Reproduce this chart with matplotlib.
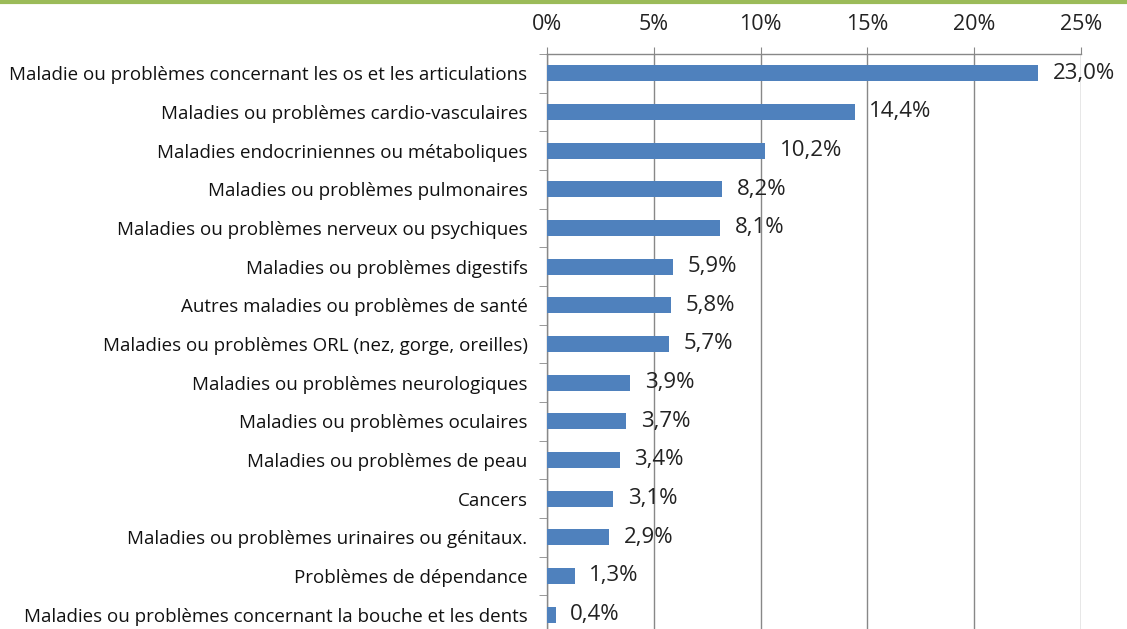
import matplotlib
matplotlib.use("Agg")
import matplotlib.pyplot as plt
from matplotlib.lines import Line2D

categories = [
    "Maladie ou problèmes concernant les os et les articulations",
    "Maladies ou problèmes cardio-vasculaires",
    "Maladies endocriniennes ou métaboliques",
    "Maladies ou problèmes pulmonaires",
    "Maladies ou problèmes nerveux ou psychiques",
    "Maladies ou problèmes digestifs",
    "Autres maladies ou problèmes de santé",
    "Maladies ou problèmes ORL (nez, gorge, oreilles)",
    "Maladies ou problèmes neurologiques",
    "Maladies ou problèmes oculaires",
    "Maladies ou problèmes de peau",
    "Cancers",
    "Maladies ou problèmes urinaires ou génitaux.",
    "Problèmes de dépendance",
    "Maladies ou problèmes concernant la bouche et les dents",
]
values = [23.0, 14.4, 10.2, 8.2, 8.1, 5.9, 5.8, 5.7, 3.9, 3.7, 3.4, 3.1, 2.9, 1.3, 0.4]
xticks = [0, 5, 10, 15, 20, 25]
xticklabels = ["0%", "5%", "10%", "15%", "20%", "25%"]

plt.rcParams['font.family'] = ['Open Sans', 'DejaVu Sans']

W, H = 1127, 629
fig = plt.figure(figsize=(W / 100, H / 100), dpi=100)
left, right, top, bottom = 547, 1081, 54, 634
ax = fig.add_axes([left / W, 1 - bottom / H, (right - left) / W, (bottom - top) / H])

n = len(categories)
ypos = list(range(n))
ax.barh(ypos, values, height=0.42, color="#4F81BD", zorder=3)
ax.set_ylim(n - 0.5, -0.5)
ax.set_xlim(0, 25)

ax.set_xticks(xticks)
ax.set_xticklabels(xticklabels, fontsize=15.5, color="#222222")
ax.xaxis.tick_top()
ax.tick_params(axis='x', which='major', direction='out', length=5, color="#888888", pad=8.5)
ax.set_yticks(ypos)
ax.set_yticklabels(categories, fontsize=13.5, color="#111111")
ax.set_yticks([i + 0.5 for i in range(-1, n)], minor=True)
ax.tick_params(axis='y', which='major', length=0, pad=14)
ax.tick_params(axis='y', which='minor', length=6, color="#888888", direction='out')

ax.grid(axis='x', color="#888888", linewidth=1, zorder=0)
for s in ["right", "bottom"]:
    ax.spines[s].set_visible(False)
for s in ["top", "left"]:
    ax.spines[s].set_color("#888888")
    ax.spines[s].set_linewidth(1)

for i, v in enumerate(values):
    ax.annotate(f"{v:.1f}%".replace(".", ","), (v, i), xytext=(10.5, 0), textcoords="offset points",
                va="center", ha="left", fontsize=16, color="#222222", zorder=4)

fig.add_artist(Line2D([0, 1], [1 - 1.5 / H, 1 - 1.5 / H], transform=fig.transFigure,
                      color="#9BBB59", linewidth=3))

fig.savefig("out.png", dpi=100)
